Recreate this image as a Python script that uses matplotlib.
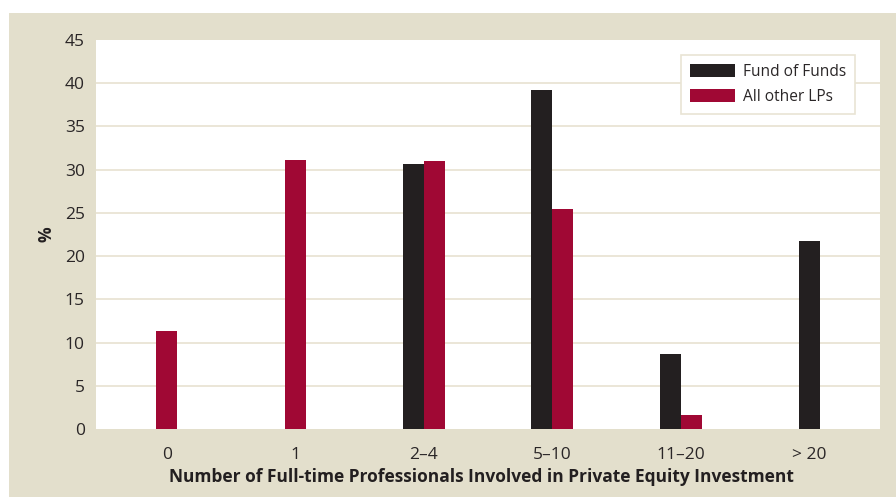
import matplotlib
matplotlib.use("Agg")
import matplotlib.pyplot as plt
from matplotlib import font_manager
from matplotlib.patches import Rectangle
import numpy as np

categories = ["0", "1", "2\u20134", "5\u201310", "11\u201320", "> 20"]
fund_of_funds = [0.0, 0.0, 30.7, 39.2, 8.7, 21.8]
all_other_lps = [11.3, 31.1, 31.0, 25.5, 1.6, 0.0]
series_names = ["Fund of Funds", "All other LPs"]
y_ticks = [0, 5, 10, 15, 20, 25, 30, 35, 40, 45]

BEIGE = "#e3dfcc"
GRID = "#e9e4d4"
DARK = "#231f20"
RED = "#a00834"

available = {f.name for f in font_manager.fontManager.ttflist}
family = "Liberation Sans Narrow" if "Liberation Sans Narrow" in available else "Open Sans"
plt.rcParams["font.family"] = [family, "DejaVu Sans"]

W, H = 896, 498
fig = plt.figure(figsize=(W / 100, H / 100), dpi=100)
fig.patch.set_facecolor("white")
# beige panel behind the chart
fig.patches.append(Rectangle((9 / W, 1 / H), (W - 9) / W, (H - 14) / H,
                             transform=fig.transFigure, facecolor=BEIGE,
                             edgecolor="none", zorder=-10))

ax = fig.add_axes([96 / W, 1 - 429 / H, (880 - 96) / W, (429 - 40) / H])
ax.set_zorder(1)
ax.set_facecolor("white")

width = 0.163
x = np.arange(len(categories))
for i in range(len(categories)):
    vals = [(fund_of_funds[i], DARK), (all_other_lps[i], RED)]
    present = [(v, c) for v, c in vals if v > 0]
    n = len(present)
    for k, (v, c) in enumerate(present):
        off = (k - (n - 1) / 2) * width
        ax.bar(x[i] + off, v, width=width, color=c, zorder=3, linewidth=0)

# legend entries
ax.bar([np.nan], [0], color=DARK, label=series_names[0])
ax.bar([np.nan], [0], color=RED, label=series_names[1])

ax.set_xlim(-0.55, 5.55)
ax.set_ylim(0, 45)
ax.set_yticks(y_ticks)
ax.set_xticks(x)
ax.set_xticklabels(categories)
for yv in y_ticks[1:-1]:
    ax.axhline(yv, color=GRID, linewidth=1.3, zorder=1)
for s in ax.spines.values():
    s.set_visible(False)
ax.tick_params(axis="both", length=0, labelsize=12.5, colors="#2a2627")
ax.tick_params(axis="y", pad=8)
ax.tick_params(axis="x", pad=13)

ax.set_ylabel("%", fontsize=12.5, fontweight="bold", color=DARK, labelpad=7)
fig.text(481 / W, 1 - 477 / H,
         "Number of Full-time Professionals Involved in Private Equity Investment",
         ha="center", va="center", fontsize=12.5, fontweight="bold", color=DARK)

leg = ax.legend(loc="upper right", bbox_to_anchor=((855 - 96) / (880 - 96), 1 - 15 / 389),
                borderaxespad=0, frameon=True, fancybox=False, fontsize=11.2,
                handlelength=2.9, handleheight=0.95, borderpad=0.55,
                labelspacing=0.6, handletextpad=0.55)
leg.get_frame().set_edgecolor(GRID)
leg.get_frame().set_linewidth(1.2)
leg.get_frame().set_facecolor("white")
leg.get_frame().set_alpha(1)
for t in leg.get_texts():
    t.set_color("#2a2627")

fig.savefig("out.png", dpi=100, facecolor=fig.get_facecolor())
